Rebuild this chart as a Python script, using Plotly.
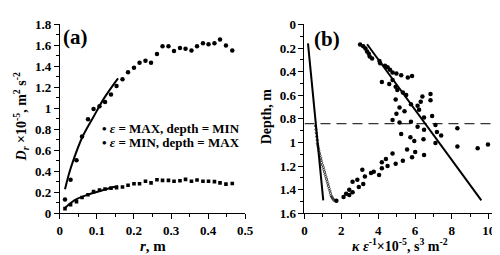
import plotly.graph_objects as go

# ---------------- Panel (a) data ----------------
r_vals = [0.014, 0.029, 0.045, 0.060, 0.076, 0.091, 0.107, 0.122, 0.138, 0.153,
          0.169, 0.184, 0.200, 0.215, 0.231, 0.246, 0.262, 0.277, 0.293, 0.308,
          0.324, 0.339, 0.355, 0.370, 0.386, 0.401, 0.417, 0.432, 0.448, 0.465]
d_eps_max = [0.132, 0.32, 0.505, 0.733, 0.897, 0.993, 1.02, 1.06, 1.133, 1.212,
             1.277, 1.343, 1.387, 1.435, 1.453, 1.435, 1.519, 1.591, 1.591, 1.546,
             1.576, 1.567, 1.552, 1.591, 1.621, 1.612, 1.621, 1.657, 1.600, 1.552]
d_eps_min = [0.045, 0.081, 0.11, 0.15, 0.177, 0.207, 0.222, 0.231, 0.24, 0.245,
             0.25, 0.267, 0.281, 0.281, 0.305, 0.29, 0.32, 0.314, 0.314, 0.305,
             0.31, 0.323, 0.305, 0.317, 0.305, 0.305, 0.302, 0.29, 0.278, 0.284]
fit_max_r = [0.014, 0.025, 0.036, 0.060, 0.091, 0.120, 0.157]
fit_max_d = [0.23, 0.38, 0.50, 0.72, 0.92, 1.10, 1.286]
fit_min_r = [0.014, 0.030, 0.048, 0.083, 0.120, 0.157]
fit_min_d = [0.05, 0.10, 0.14, 0.186, 0.225, 0.26]

# ---------------- Panel (b) data ----------------
big_x = [3.02, 3.19, 3.31, 3.40, 3.49, 3.54, 3.67, 4.07, 4.11, 4.37,
         4.51, 4.64, 4.78, 4.99, 5.25, 5.61, 5.84, 4.20, 4.60, 4.78,
         4.95, 5.04, 5.34, 5.52, 4.95, 5.78, 5.16, 5.43, 6.14, 6.31,
         6.40, 6.84, 6.84, 6.22, 4.99, 4.78, 5.16, 5.78, 6.49, 6.93,
         6.14, 6.49, 7.11, 5.25, 5.75, 5.96, 6.46, 7.19, 7.42, 8.30,
         7.11, 8.30, 9.40, 9.96, 5.57, 6.01, 4.78, 4.42, 4.20, 5.84,
         6.49, 5.34, 4.95, 4.51, 4.20, 3.76, 3.61, 4.05, 3.28, 3.14,
         2.87, 3.19, 2.95, 2.61, 2.43, 2.61, 2.26, 2.43, 2.12, 1.73]
big_d = [0.170, 0.184, 0.203, 0.230, 0.248, 0.272, 0.288, 0.310, 0.330, 0.350,
         0.363, 0.384, 0.408, 0.416, 0.430, 0.450, 0.437, 0.488, 0.504, 0.470,
         0.528, 0.555, 0.576, 0.597, 0.635, 0.677, 0.704, 0.736, 0.688, 0.656,
         0.610, 0.589, 0.643, 0.723, 0.757, 0.810, 0.830, 0.824, 0.789, 0.776,
         0.867, 0.893, 0.853, 0.928, 0.955, 0.987, 0.973, 0.912, 0.941, 0.880,
         1.005, 1.035, 1.048, 1.018, 1.060, 1.080, 1.093, 1.141, 1.168, 1.125,
         1.107, 1.155, 1.181, 1.200, 1.219, 1.248, 1.258, 1.275, 1.288, 1.232,
         1.315, 1.352, 1.378, 1.333, 1.400, 1.421, 1.435, 1.445, 1.461, 1.493]
small_x = [0.60, 0.62, 0.64, 0.66, 0.69, 0.70, 0.73, 0.76, 0.78, 0.81,
           0.84, 0.88, 0.90, 0.93, 0.97, 1.02, 1.05, 1.09, 1.12, 1.16,
           1.20, 1.23, 1.27, 1.30, 1.34, 1.38, 1.41, 1.44, 1.48, 1.51,
           1.56, 1.60]
small_d = [0.86, 0.89, 0.92, 0.95, 0.98, 1.01, 1.03, 1.05, 1.07, 1.09,
           1.11, 1.13, 1.15, 1.17, 1.19, 1.21, 1.23, 1.25, 1.27, 1.29,
           1.31, 1.33, 1.35, 1.37, 1.39, 1.41, 1.43, 1.45, 1.46, 1.47,
           1.48, 1.49]
left_fit_x = [0.19, 1.02]
left_fit_d = [0.16, 1.49]
right_fit_x = [3.40, 9.60]
right_fit_d = [0.168, 1.49]
dash_x = [0, 10.4]
dash_d = [0.84, 0.84]

FONT = "Liberation Serif"

fig = go.Figure()
# panel a
fig.add_trace(go.Scatter(x=r_vals, y=d_eps_max, mode="markers",
                         marker=dict(color="black", size=4.5, symbol="circle"),
                         xaxis="x", yaxis="y", showlegend=False))
fig.add_trace(go.Scatter(x=r_vals, y=d_eps_min, mode="markers",
                         marker=dict(color="black", size=3.6, symbol="square"),
                         xaxis="x", yaxis="y", showlegend=False))
fig.add_trace(go.Scatter(x=fit_max_r, y=fit_max_d, mode="lines",
                         line=dict(color="black", width=2, shape="spline"),
                         xaxis="x", yaxis="y", showlegend=False))
fig.add_trace(go.Scatter(x=fit_min_r, y=fit_min_d, mode="lines",
                         line=dict(color="black", width=2, shape="spline"),
                         xaxis="x", yaxis="y", showlegend=False))
# panel b
fig.add_trace(go.Scatter(x=dash_x, y=dash_d, mode="lines",
                         line=dict(color="#333333", width=1.3, dash="10px,6px"),
                         xaxis="x2", yaxis="y2", showlegend=False, cliponaxis=False))
fig.add_trace(go.Scatter(x=big_x, y=big_d, mode="markers",
                         marker=dict(color="black", size=4.5, symbol="circle"),
                         xaxis="x2", yaxis="y2", showlegend=False))
fig.add_trace(go.Scatter(x=small_x, y=small_d, mode="markers",
                         marker=dict(color="black", size=2.2, symbol="circle-open",
                                     line=dict(width=0.7, color="black")),
                         xaxis="x2", yaxis="y2", showlegend=False))
fig.add_trace(go.Scatter(x=left_fit_x, y=left_fit_d, mode="lines",
                         line=dict(color="black", width=2),
                         xaxis="x2", yaxis="y2", showlegend=False))
fig.add_trace(go.Scatter(x=right_fit_x, y=right_fit_d, mode="lines",
                         line=dict(color="black", width=2),
                         xaxis="x2", yaxis="y2", showlegend=False))

tickfont = dict(family=FONT, size=13, color="black", weight="bold")
common = dict(showline=True, linecolor="black", linewidth=1, ticks="outside",
              ticklen=5, tickwidth=1, tickcolor="black", showgrid=False,
              zeroline=False, tickfont=tickfont)

ydom = [1 - 210.7 / 255, 1 - 10 / 255]
fig.update_layout(
    width=500, height=255,
    margin=dict(l=0, r=0, t=0, b=0),
    paper_bgcolor="white", plot_bgcolor="white",
    xaxis=dict(domain=[50 / 500, 240 / 500], range=[0, 0.5], dtick=0.1, anchor="y",
               minor=dict(ticks="outside", ticklen=3, dtick=0.05, tickcolor="black"),
               **common),
    yaxis=dict(domain=ydom, range=[0, 1.8], dtick=0.2, anchor="x",
               minor=dict(ticks="outside", ticklen=3, dtick=0.1, tickcolor="black"),
               **common),
    xaxis2=dict(domain=[300.7 / 500, 497 / 500], range=[0, 10.4], tick0=0, dtick=2,
                anchor="y2",
                minor=dict(ticks="outside", ticklen=3, dtick=1, tickcolor="black"),
                **common),
    yaxis2=dict(domain=ydom, range=[1.6, 0], dtick=0.2, anchor="x2",
                minor=dict(ticks="outside", ticklen=3, dtick=0.1, tickcolor="black"),
                **common),
)

def ann(text, x, y, size, angle=0, xanchor="center"):
    fig.add_annotation(text=text, x=x / 500, y=1 - y / 255, xref="paper", yref="paper",
                       showarrow=False, textangle=angle, xanchor=xanchor, yanchor="middle",
                       font=dict(family=FONT, size=size, color="black"))

ann("<b>(a)</b>", 66.5, 23, 21)
ann("<b>(b)</b>", 324, 26, 21)
ann("<b>• <i>ε</i> = MAX, depth = MIN</b>", 91, 121, 13, xanchor="left")
ann("<b>• <i>ε</i> = MIN, depth = MAX</b>", 91, 135, 13, xanchor="left")
ann("<b><i>r</i>, m</b>", 145, 245, 15)
ann("<b><i>D</i><sub><i>r</i></sub> ×10<sup>-5</sup>, m<sup>2</sup> s<sup>-2</sup></b>",
    10, 108, 14, angle=-90)
ann("<b>Depth, m</b>", 262, 108, 14, angle=-90)
ann("<b><i>κ ε</i><sup>-1</sup>×10<sup>-5</sup>, s<sup>3</sup> m<sup>-2</sup></b>",
    399, 244, 14)

fig.write_html("out.html")
